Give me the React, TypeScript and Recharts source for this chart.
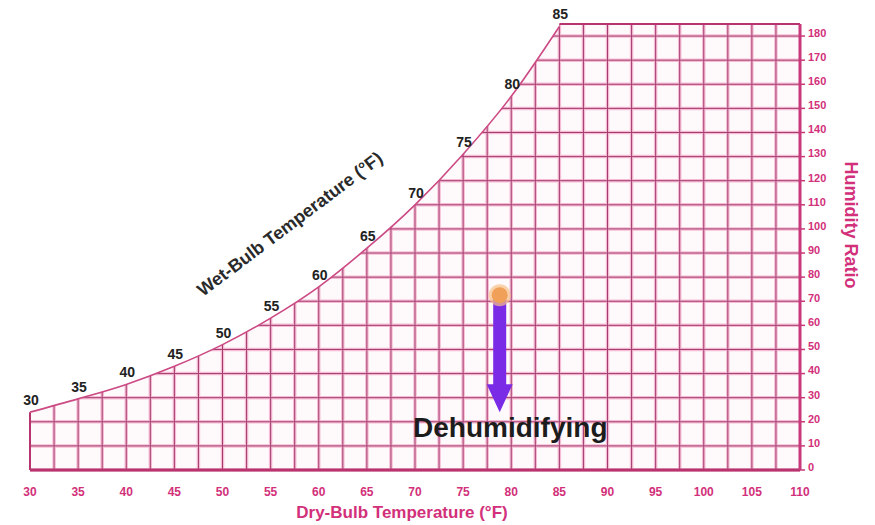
import {
  ComposedChart,
  XAxis,
  YAxis,
  CartesianGrid,
  Area,
  Line,
  Scatter,
  LabelList,
  ReferenceLine,
} from 'recharts';

document.body.style.margin = '0';

const FONT = '"Liberation Sans", Arial, sans-serif';
const PINK = '#d2307a';
const GRID_DARK = '#a43c70';
const GRID_SOFT = '#f5bcd3';

// dry-bulb temperatures along the saturation curve (°F) and the humidity ratio there (grains/lb)
const dryBulb = [30, 35, 40, 45, 50, 55, 60, 65, 70, 75, 80, 85];
const saturation = [24, 29.5, 35.5, 43, 52, 63, 76, 92, 110, 131, 155, 184];

const tempTicks = [30, 35, 40, 45, 50, 55, 60, 65, 70, 75, 80, 85, 90, 95, 100, 105, 110];
const ratioTicks = [0, 10, 20, 30, 40, 50, 60, 70, 80, 90, 100, 110, 120, 130, 140, 150, 160, 170, 180];
const gridTemps = [
  32.5, 35, 37.5, 40, 42.5, 45, 47.5, 50, 52.5, 55, 57.5, 60, 62.5, 65, 67.5, 70, 72.5,
  75, 77.5, 80, 82.5, 85, 87.5, 90, 92.5, 95, 97.5, 100, 102.5, 105, 107.5,
];
const gridRatios = ratioTicks;
const chartTop = 185;

// dehumidifying process: start state and end of arrow
const processStart = [{ t: 78.8, w: 72.5 }];
const processLine = [
  { t: 78.8, w: 72.5 },
  { t: 78.8, w: 34 },
];
const processTip = [{ t: 78.8, w: 24 }];
const processLabel = [{ t: 79.9, w: 17.5, text: 'Dehumidifying' }];
const wetBulbTitle = [{ t: 57, w: 102, text: 'Wet-Bulb Temperature (°F)' }];

const rows = dryBulb.map((t, i) => ({ t, w: saturation[i], cover: [saturation[i], chartTop] }));

const WetBulbLabel = (props: any) => {
  const { x, y, value } = props;
  return (
    <text
      x={x + 1}
      y={y - 12}
      textAnchor="middle"
      dominantBaseline="central"
      fontFamily={FONT}
      fontWeight="bold"
      fontSize={14}
      fill="#222"
    >
      {value}
    </text>
  );
};

const TitleShape = (props: any) => {
  const { cx, cy, payload } = props;
  return (
    <text
      x={cx}
      y={cy}
      transform={`rotate(-37 ${cx} ${cy})`}
      textAnchor="middle"
      dominantBaseline="central"
      fontFamily={FONT}
      fontWeight="bold"
      fontSize={18}
      fill="#2a2a2a"
    >
      {payload.text}
    </text>
  );
};

const ProcessText = (props: any) => {
  const { cx, cy, payload } = props;
  return (
    <text
      x={cx}
      y={cy}
      textAnchor="middle"
      dominantBaseline="central"
      fontFamily={FONT}
      fontWeight="bold"
      fontSize={28}
      fill="#1c1c1c"
    >
      {payload.text}
    </text>
  );
};

const ArrowHead = (props: any) => {
  const { cx, cy } = props;
  return <path d={`M${cx - 13},${cy - 28} L${cx + 13},${cy - 28} L${cx},${cy} Z`} fill="#7a2be6" />;
};

const StateDot = (props: any) => {
  const { cx, cy } = props;
  return (
    <g>
      <circle cx={cx} cy={cy} r={11} fill="#f7c08a" opacity={0.7} />
      <circle cx={cx} cy={cy} r={8} fill="#f0a058" />
    </g>
  );
};

const RatioLabel = (props: any) => {
  const vb = props.viewBox || { x: 800, y: 24, width: 60, height: 446 };
  const x = vb.x + 51;
  const y = vb.y + vb.height / 2 - 22;
  return (
    <text
      x={x}
      y={y}
      transform={`rotate(90 ${x} ${y})`}
      textAnchor="middle"
      dominantBaseline="central"
      fontFamily={FONT}
      fontWeight="bold"
      fontSize={18}
      fill={PINK}
    >
      Humidity Ratio
    </text>
  );
};

export default function App() {
  return (
    <div style={{ width: 875, height: 525, background: '#fff' }}>
      <ComposedChart
        width={875}
        height={525}
        data={rows}
        margin={{ top: 24, right: 15, bottom: 5, left: 30 }}
      >
        <CartesianGrid
          verticalValues={gridTemps}
          horizontalValues={gridRatios}
          stroke={GRID_SOFT}
          strokeWidth={3.5}
          fill="#fefafc"
        />
        <CartesianGrid
          verticalValues={gridTemps}
          horizontalValues={gridRatios}
          stroke={GRID_DARK}
          strokeWidth={1}
        />
        <XAxis
          type="number"
          dataKey="t"
          domain={[30, 110]}
          ticks={tempTicks}
          interval={0}
          height={50}
          tickSize={0}
          tickMargin={17}
          axisLine={{ stroke: '#b8346e', strokeWidth: 3 }}
          tick={{ fill: PINK, fontSize: 12, fontWeight: 'bold', fontFamily: FONT }}
          label={{
            value: 'Dry-Bulb Temperature (°F)',
            position: 'insideBottom',
            offset: 2,
            dx: -13,
            fill: PINK,
            fontSize: 17,
            fontWeight: 'bold',
            fontFamily: FONT,
          }}
        />
        <YAxis
          orientation="right"
          dataKey="w"
          domain={[0, chartTop]}
          ticks={ratioTicks}
          width={60}
          tickSize={5}
          tickMargin={3}
          interval={0}
          axisLine={{ stroke: '#c8387a', strokeWidth: 3 }}
          tickLine={{ stroke: '#c8387a', strokeWidth: 1.5 }}
          tick={{ fill: PINK, fontSize: 11, fontWeight: 'bold', fontFamily: FONT, textAnchor: 'start', dy: -3 }}
          label={<RatioLabel />}
        />
        <ReferenceLine segment={[{ x: 85, y: chartTop }, { x: 110, y: chartTop }]} stroke="#b8346e" strokeWidth={2} />
        <ReferenceLine segment={[{ x: 30, y: 0 }, { x: 30, y: saturation[0] }]} stroke="#b8346e" strokeWidth={2} />
        <Area
          type="monotone"
          dataKey="cover"
          fill="#ffffff"
          fillOpacity={1}
          stroke="none"
          isAnimationActive={false}
        />
        <Line
          type="monotone"
          dataKey="w"
          stroke="#cc4a84"
          strokeWidth={1.6}
          dot={false}
          isAnimationActive={false}
        >
          <LabelList dataKey="t" content={WetBulbLabel} />
        </Line>
        <Scatter data={wetBulbTitle} dataKey="w" shape={TitleShape} isAnimationActive={false} />
        <Line
          data={processLine}
          dataKey="w"
          stroke="#7a2be6"
          strokeWidth={13}
          dot={false}
          isAnimationActive={false}
        />
        <Scatter data={processTip} dataKey="w" shape={ArrowHead} isAnimationActive={false} />
        <Scatter data={processStart} dataKey="w" shape={StateDot} isAnimationActive={false} />
        <Scatter data={processLabel} dataKey="w" shape={ProcessText} isAnimationActive={false} />
      </ComposedChart>
    </div>
  );
}
